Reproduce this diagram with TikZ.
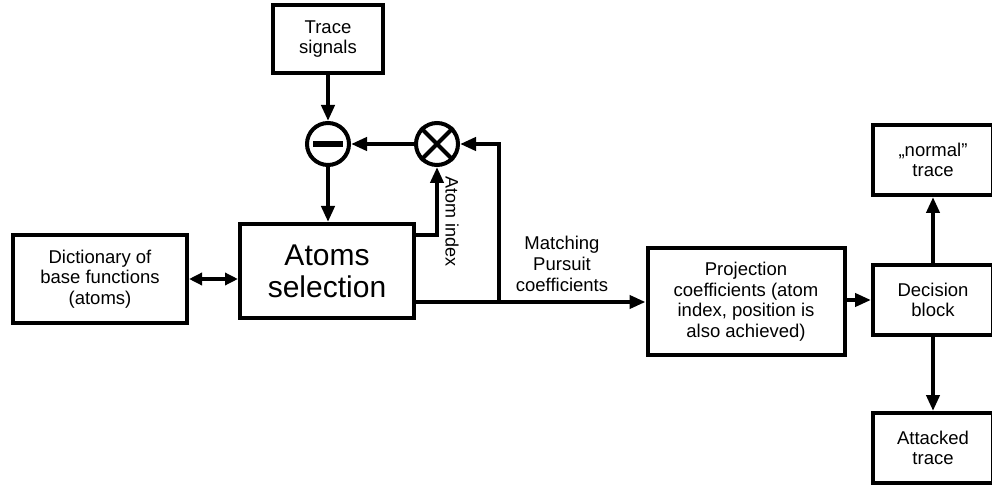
\documentclass[tikz,border=0pt]{standalone}
\usepackage{fontspec}
\setmainfont{Liberation Sans}
\usetikzlibrary{shapes, arrows.meta, positioning}
\tikzstyle{arrow} = [line width=4pt,-{Triangle[length=16pt,width=13pt]}]
\tikzstyle{block} = [draw, line width=4pt, align=center, font=\fontsize{18.5}{20.5}\selectfont]
\tikzstyle{summer} = [draw, circle, line width=4pt, minimum size=42pt, inner sep=0pt]

\begin{document}
\begin{tikzpicture}[x=1pt, y=-1pt]

                    \clip (0,0) rectangle (992,486);

                    % Blocks
                    \node[block, minimum width=110pt, minimum height=68pt] (trace) at (328,39) {Trace\\signals};
                    \node[block, minimum width=174pt, minimum height=94pt, font=\fontsize{30}{32}\selectfont] (atoms) at (327,271) {Atoms\\selection};
                    \node[block, minimum width=174pt, minimum height=88pt] (dict) at (100,279) {Dictionary of\\base functions\\(atoms)};
                    \node[block, minimum width=197pt, minimum height=107pt] (proj) at (746,301.5) {Projection\\coefficients (atom\\index, position is\\also achieved)};
                    \node[block, minimum width=120pt, minimum height=70pt] (decision) at (933,300) {Decision\\block};
                    \node[block, minimum width=120pt, minimum height=70pt] (normal) at (933,160) {„normal”\\trace};
                    \node[block, minimum width=120pt, minimum height=70pt] (attacked) at (933,448) {Attacked\\trace};

                    % Operators
                    \node[summer] (minus) at (328,144) {};
                    \node[summer] (times) at (437,144) {};
                    \draw[line width=6pt] ([xshift=-15pt]minus.center) -- ([xshift=15pt]minus.center);
                    \draw[line width=4pt] (times.north west) -- (times.south east);
                    \draw[line width=4pt] (times.north east) -- (times.south west);

                    % Connections
                    \draw[arrow] (trace) -- (minus);
                    \draw[arrow] (minus.south) -- (minus.south |- atoms.north);
                    \draw[arrow] (times) -- (minus);
                    \draw[arrow] ([yshift=-13pt]atoms.north east) -| (times.south);
                    \draw[line width=4pt,{Triangle[length=13pt,width=12pt]}-{Triangle[length=13pt,width=12pt]}] (dict.east) -- (dict.east -| atoms.west);

                    \coordinate (mpout) at ([yshift=18pt]atoms.south east);
                    \coordinate (junction) at (499,300);
                    \draw[arrow] (mpout) -- (mpout -| proj.west);
                    \draw[arrow] (junction) |- (times.east);
                    \draw[arrow] (proj.east |- decision.west) -- (decision.west);
                    \draw[arrow] (decision) -- (normal);
                    \draw[arrow] (decision) -- (attacked);

                    % Labels
                    \node[rotate=-90, font=\fontsize{18}{20}\selectfont] (atomidx) at (452,222) {Atom index};
                    \node[align=center, font=\fontsize{18.5}{21}\selectfont] (mplabel) at (562,264) {Matching\\Pursuit\\coefficients};

                \end{tikzpicture}
\end{document}
